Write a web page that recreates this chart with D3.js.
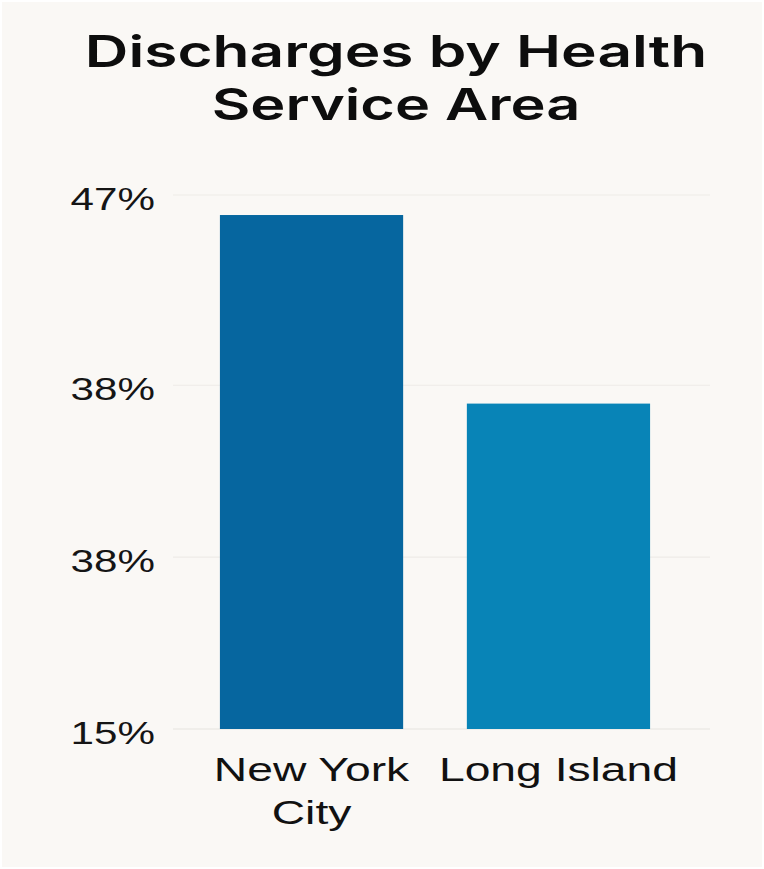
<!DOCTYPE html>
<html>
<head>
<meta charset="utf-8">
<script src="https://cdn.jsdelivr.net/npm/d3@7/dist/d3.min.js"></script>
<style>
  html, body { margin: 0; padding: 0; background: #ffffff; }
  svg { display: block; }
</style>
</head>
<body>
<script>
// Chart data
const categories = ["New York City", "Long Island"];
const categoryLines = [["New York", "City"], ["Long Island"]];
const values = [45.8, 34.5];
const barColors = ["#06669f", "#0884b7"];
const tickValues = [15, 25.3, 35.6, 47];
const tickLabels = ["15%", "38%", "38%", "47%"];
const titleLines = ["Discharges by Health", "Service Area"];

const W = 764, H = 869;
const STRETCH = 1.36; // wide lettering used for all text

const svg = d3.select("body").append("svg")
  .attr("width", W).attr("height", H);

svg.append("rect")
  .attr("x", 2).attr("y", 2)
  .attr("width", W - 4).attr("height", H - 4)
  .attr("fill", "#faf8f5");

const font = "'Liberation Sans', Arial, Helvetica, sans-serif";
const titleFont = "Inter, 'Liberation Sans', Arial, sans-serif";

// helper: horizontally stretched text anchored at (x, y)
function stretchedText(parent, x, y, str, opts) {
  const g = parent.append("g")
    .attr("transform", `translate(${x},${y}) scale(${opts.stretch || STRETCH},1)`);
  return g.append("text")
    .attr("x", 0).attr("y", 0)
    .attr("text-anchor", opts.anchor || "middle")
    .attr("font-family", opts.family || font)
    .attr("font-size", opts.size)
    .attr("font-weight", opts.weight || "normal")
    .attr("fill", opts.fill || "#111")
    .text(str);
}

// Title: medium-weight face, widened to the width of the stretched bold Arial line
titleLines.forEach((t, i) => {
  const probe = svg.append("text")
    .attr("font-family", font).attr("font-size", 45).attr("font-weight", "bold")
    .text(t);
  const target = probe.node().getComputedTextLength() * STRETCH;
  probe.remove();
  const probe2 = svg.append("text")
    .attr("font-family", titleFont).attr("font-size", 44).attr("font-weight", 600)
    .text(t);
  const natural = probe2.node().getComputedTextLength();
  probe2.remove();
  stretchedText(svg, 396, 67 + i * 53, t, {
    size: 44, weight: 600, family: titleFont, fill: "#0d0d0d", stretch: target / natural
  });
});

// Scales
const y = d3.scaleLinear().domain([15, 47]).range([729, 195]);
const x = d3.scaleBand().domain(categories).range([173, 697])
  .paddingInner(0.258).paddingOuter(0.19);

// Gridlines
svg.append("g").selectAll("line")
  .data(tickValues)
  .join("line")
  .attr("x1", 173).attr("x2", 710)
  .attr("y1", d => y(d)).attr("y2", d => y(d))
  .attr("stroke", d => d === tickValues[0] ? "#e6e3df" : "#eeebe7")
  .attr("stroke-width", 1.2);

// Bars
svg.append("g").selectAll("rect")
  .data(categories)
  .join("rect")
  .attr("x", d => x(d))
  .attr("width", x.bandwidth())
  .attr("y", (d, i) => y(values[i]))
  .attr("height", (d, i) => y(15) - y(values[i]))
  .attr("fill", (d, i) => barColors[i]);

// Y tick labels
tickValues.forEach((v, i) => {
  stretchedText(svg, 155, y(v) + 15, tickLabels[i], { size: 31, anchor: "end", fill: "#151515" });
});

// X category labels
categories.forEach((c, i) => {
  const cx = x(c) + x.bandwidth() / 2;
  categoryLines[i].forEach((line, j) => {
    stretchedText(svg, cx, 781 + j * 43, line, { size: 34, fill: "#111" });
  });
});
</script>
</body>
</html>
